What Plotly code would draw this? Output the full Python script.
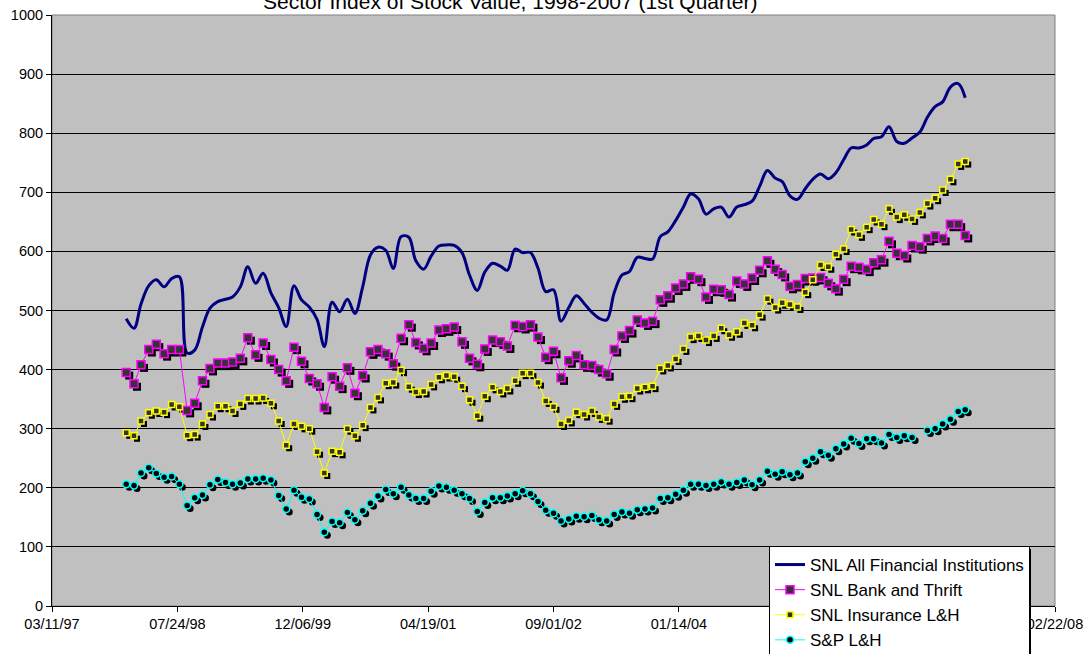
import pandas as pd
import plotly.graph_objects as go

# ---- data (monthly, Jan 1998 - Mar 2007) ----
months = pd.date_range("1998-01-01", periods=111, freq="MS")

snl_all = [486,470,511,542,552,540,554,557,428,433,
           472,504,515,519,523,540,574,546,563,530,
           505,473,542,518,506,485,439,514,498,519,
           495,540,594,607,602,571,625,624,584,570,
           592,609,611,610,598,560,534,565,580,575,
           568,604,598,598,572,532,535,482,505,525,
           512,497,487,484,530,560,566,590,588,587,
           625,633,652,675,697,689,663,672,675,658,
           675,679,685,710,737,724,718,694,688,706,
           722,731,723,733,755,775,775,780,791,794,
           811,786,783,792,802,827,845,853,878,884,860]

snl_bank = [395,376,408,434,443,427,434,434,331,343,
            381,402,411,411,413,419,454,425,445,417,
            400,381,438,414,385,376,336,388,372,403,
            360,390,430,434,427,410,453,476,446,436,
            445,467,469,472,447,419,409,435,450,447,
            440,475,473,476,455,421,431,386,415,424,
            408,407,400,393,434,457,466,484,479,482,
            518,525,538,545,557,553,523,536,535,527,
            550,545,555,568,584,570,561,541,544,554,
            555,556,546,537,553,575,573,570,581,586,
            617,597,593,610,608,622,626,622,646,646,627]

snl_ins = [293,288,313,327,330,328,341,337,289,290,
           308,324,338,338,330,342,351,351,352,343,
           313,272,308,304,300,261,225,262,260,300,
           288,306,336,353,377,378,399,371,362,363,
           375,387,390,388,372,349,322,355,370,363,
           368,381,394,394,378,347,337,308,314,328,
           324,330,320,317,342,354,355,368,370,372,
           402,407,418,435,455,457,450,457,470,459,
           464,479,475,493,520,505,513,510,506,531,
           552,577,574,595,604,637,628,641,654,646,
           672,658,662,655,666,681,690,704,722,748,752]

sp_lh = [206,204,225,234,224,218,219,206,170,183,
         188,205,214,209,206,208,215,215,216,213,
         187,164,196,184,181,155,125,143,141,158,
         146,161,174,186,197,190,201,188,182,182,
         194,203,201,196,190,182,160,175,183,183,
         186,190,195,190,177,162,157,144,147,152,
         151,153,146,144,155,159,157,163,164,166,
         182,183,189,196,206,206,204,206,210,206,
         209,213,205,213,228,223,227,222,225,244,
         250,261,255,266,274,284,275,283,283,276,
         290,285,288,285,None,297,300,308,316,329,332]

series_names = ["SNL All Financial Institutions", "SNL Bank and Thrift",
                "SNL Insurance L&H", "S&P L&H"]

x_start = pd.Timestamp("1997-03-11")
x_end = pd.Timestamp("2008-02-22")
tick_dates = pd.date_range(x_start, x_end, freq="500D")
tick_text = [d.strftime("%m/%d/%y") for d in tick_dates]

# ---- figure ----
FONT = "Arial, Liberation Sans, sans-serif"
fig = go.Figure()

# series 1: smoothed line on the base axes
fig.add_trace(go.Scatter(
    x=months, y=snl_all, name=series_names[0], mode="lines",
    line=dict(color="#000080", width=3, shape="spline", smoothing=1.0)))

# marker shadows (offset ~3 px right/down via shifted overlay axes)
shadow_specs = [
    (snl_bank, "square", 8),
    (snl_ins, "square", 6),
    (sp_lh, "circle", 7),
]
for vals, sym, sz in shadow_specs:
    fig.add_trace(go.Scatter(
        x=months, y=vals, mode="markers", xaxis="x2", yaxis="y2",
        marker=dict(symbol=sym, size=sz, color="black", line=dict(width=0)),
        showlegend=False, hoverinfo="skip"))

# marker series on top overlay
fig.add_trace(go.Scatter(
    x=months, y=snl_bank, name=series_names[1], mode="lines+markers",
    xaxis="x3", yaxis="y3",
    line=dict(color="#FF00FF", width=1),
    marker=dict(symbol="square", size=8, color="#333333",
                line=dict(color="#FF00FF", width=1.5))))
fig.add_trace(go.Scatter(
    x=months, y=snl_ins, name=series_names[2], mode="lines+markers",
    xaxis="x3", yaxis="y3",
    line=dict(color="#FFFF00", width=1),
    marker=dict(symbol="square", size=6, color="#333333",
                line=dict(color="#FFFF00", width=1.5))))
fig.add_trace(go.Scatter(
    x=months, y=sp_lh, name=series_names[3], mode="lines+markers",
    xaxis="x3", yaxis="y3", connectgaps=False,
    line=dict(color="#00FFFF", width=1),
    marker=dict(symbol="circle", size=7, color="black",
                line=dict(color="#00FFFF", width=1.5))))

W, H = 1088, 654
L, R, T, B = 52, 33, 15, 48
plot_w = W - L - R
plot_h = H - T - B
y_min, y_max = 0, 1000
days_total = (x_end - x_start).days
px_per_day = plot_w / days_total
px_per_unit = plot_h / (y_max - y_min)
shift_days = pd.Timedelta(days=round(3 / px_per_day))
shift_y = 3 / px_per_unit

def px_x(px):
    return (px - L) / plot_w

def px_y(py):
    return (H - B - py) / plot_h

LEG_L, LEG_T, LEG_W, LEG_H = 769, 546, 259, 112

fig.update_layout(
    width=W, height=H,
    margin=dict(l=L, r=R, t=T, b=B, pad=0, autoexpand=False),
    paper_bgcolor="white",
    plot_bgcolor="#C0C0C0",
    font=dict(family=FONT, size=15, color="black"),
    title=dict(text="Sector Index of Stock Value, 1998-2007 (1st Quarter)",
               font=dict(family=FONT, size=21, color="black"),
               x=0.469, xanchor="center", xref="container",
               y=0.987, yanchor="bottom", yref="container"),
    xaxis=dict(type="date", range=[x_start, x_end],
               tickvals=list(tick_dates), ticktext=tick_text,
               ticks="outside", ticklen=5, tickcolor="black",
               showline=True, linecolor="black", linewidth=1,
               showgrid=False, zeroline=False,
               tickfont=dict(family=FONT, size=14.5, color="black")),
    yaxis=dict(range=[y_min, y_max], dtick=100,
               ticks="outside", ticklen=5, tickcolor="black",
               showline=True, linecolor="black", linewidth=1,
               showgrid=True, gridcolor="black", gridwidth=1,
               zeroline=False,
               tickfont=dict(family=FONT, size=14.5, color="black")),
    xaxis2=dict(type="date", overlaying="x", visible=False,
                range=[x_start - shift_days, x_end - shift_days]),
    yaxis2=dict(overlaying="y", visible=False,
                range=[y_min + shift_y, y_max + shift_y]),
    xaxis3=dict(type="date", overlaying="x", visible=False,
                range=[x_start, x_end]),
    yaxis3=dict(overlaying="y", visible=False, range=[y_min, y_max]),
    legend=dict(x=px_x(LEG_L), y=px_y(LEG_T),
                xanchor="left", yanchor="top",
                bgcolor="white", bordercolor="black", borderwidth=1,
                font=dict(family=FONT, size=17, color="black"),
                tracegroupgap=0, traceorder="normal"),
    showlegend=True,
    shapes=[
        # plot area border (grey, top & right)
        dict(type="rect", xref="paper", yref="paper", x0=0, x1=1, y0=0, y1=1,
             line=dict(color="#808080", width=1), layer="below"),
        # legend shadow
        dict(type="rect", xref="paper", yref="paper",
             x0=px_x(LEG_L + 3), x1=px_x(LEG_L + LEG_W + 3),
             y0=px_y(LEG_T + LEG_H + 3), y1=px_y(LEG_T + 3),
             fillcolor="black", line=dict(width=0), layer="above"),
    ],
)

fig.write_html("out.html")
